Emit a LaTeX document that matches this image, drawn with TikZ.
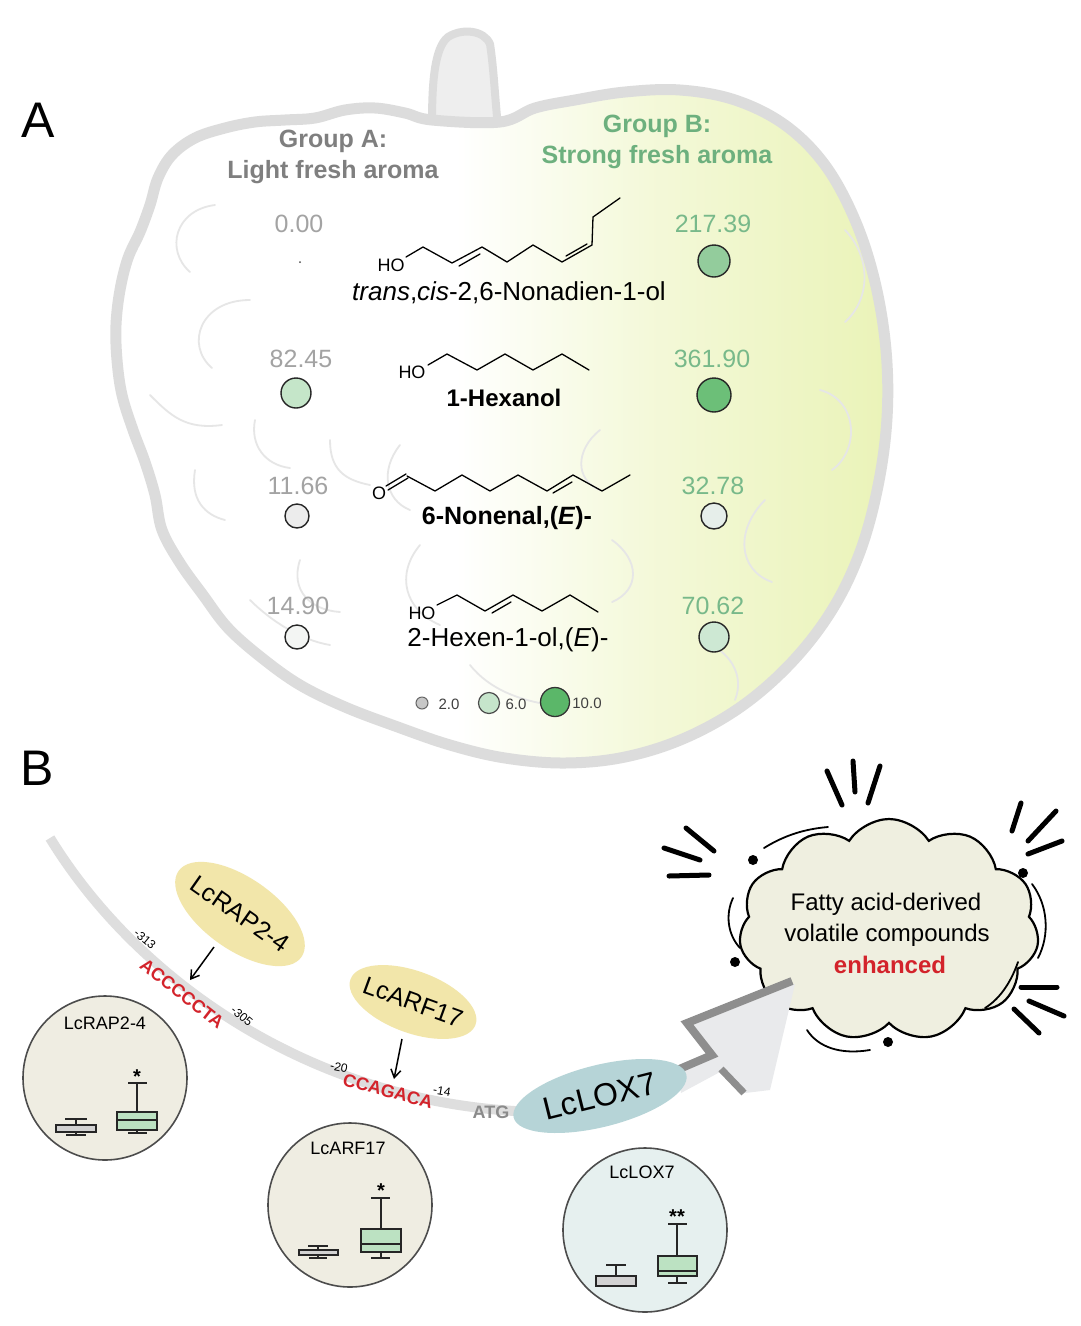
\documentclass[tikz,border=0pt]{standalone}
\usepackage{fontspec}
\setmainfont{Liberation Sans}
\usetikzlibrary{shapes.symbols,shapes.geometric,arrows.meta,calc}
\definecolor{fruitline}{HTML}{DCDCDC}
\definecolor{fruitbump}{HTML}{E6E6E6}
\definecolor{fruitG}{HTML}{EAF3B8}
\definecolor{grpA}{HTML}{7F7F7F}
\definecolor{grpB}{HTML}{6DB07E}
\definecolor{valA}{HTML}{A3A3A3}
\definecolor{valB}{HTML}{78B98A}
\definecolor{dnaG}{HTML}{DEDEDE}
\definecolor{seqRed}{HTML}{D3232B}
\definecolor{tfYel}{HTML}{F2E6AA}
\definecolor{loxBlue}{HTML}{B6D4D7}
\definecolor{circBeige}{HTML}{EFEDE2}
\definecolor{circBlue}{HTML}{E6F0EF}
\definecolor{boxGreen}{HTML}{BCE2C2}
\definecolor{boxGray}{HTML}{D2D2D2}
\definecolor{cloudFill}{HTML}{EFEFE0}
\definecolor{arrowDark}{HTML}{8E8E8E}
\definecolor{arrowLight}{HTML}{E9EAEC}
\definecolor{atgGray}{HTML}{8B8B8B}
\definecolor{stemFill}{HTML}{EEEEEE}
\pgfdeclarehorizontalshading{fruitshade}{100bp}{color(0bp)=(white); color(25bp)=(white); color(47bp)=(white); color(60bp)=(fruitG!55); color(75bp)=(fruitG); color(100bp)=(fruitG)}
\newcommand{\fsz}[1]{\fontsize{#1}{#1}\selectfont}
\begin{document}
\begin{tikzpicture}[x=1pt,y=-1pt,
  every node/.style={inner sep=0pt, outer sep=0pt},
  panel/.style={font=\fsz{50}},
  hdrA/.style={text=grpA, font=\fsz{25}\bfseries},
  hdrB/.style={text=grpB, font=\fsz{25}\bfseries},
  valLeft/.style={text=valA, font=\fsz{25}},
  valRight/.style={text=valB, font=\fsz{25}},
  bub/.style={circle, draw=black!85, line width=1.4, minimum size=#1},
  mol/.style={line width=1.3, line join=round, line cap=round},
  atom/.style={font=\fsz{18}},
  molname/.style={font=\fsz{26}},
  legtxt/.style={font=\fsz{15}, text=black!75},
  bumpline/.style={draw=fruitbump, line width=1.8, line cap=round},
  tfell/.style={ellipse, fill=tfYel, inner sep=0pt, font=\fsz{25}},
  tfarrow/.style={line width=1.5, -{Straight Barb[length=8pt,width=10pt]}},
  seqtxt/.style={text=seqRed, font=\fsz{18}\bfseries},
  postxt/.style={font=\fsz{12}},
  exprcirc/.style={draw=black!70, line width=1.6},
  exprtitle/.style={font=\fsz{18}},
  bp/.style={draw=black!85, line width=1.4},
  star/.style={font=\fsz{20}\bfseries},
  burst/.style={line width=5, line cap=round},
  thinarc/.style={line width=1.8, line cap=round},
  cloudtxt/.style={font=\fsz{24}}
]
\useasboundingbox (0,0) rectangle (1080,1326);
\fill[white] (0,0) rectangle (1080,1326);

% ---------------- Panel A: fruit ----------------
\filldraw[fill=stemFill, draw=fruitline, line width=8, line join=round]
  (432,124) .. controls (432,85) and (434,48) .. (448,37)
  .. controls (462,28) and (484,30) .. (490,44)
  .. controls (494,70) and (495,100) .. (498,126);
\shade[shading=fruitshade] plot[smooth cycle, tension=0.6] coordinates {
 (432,120) (405,113) (375,108) (345,110) (315,118) (285,120) (255,122) (225,128)
 (195,138) (172,155) (158,178) (150,205) (140,232) (128,258) (120,290) (116,325)
 (117,360) (122,395) (133,430) (145,462) (155,495) (162,530) (180,563) (203,595)
 (228,628) (262,658) (300,685) (345,707) (395,726) (450,745) (505,758) (565,763)
 (625,757) (685,738) (742,706) (792,662) (832,610) (860,552) (878,486) (887,418)
 (886,350) (875,282) (855,220) (825,165) (785,125) (735,100) (680,90) (625,92)
 (575,100) (535,108) (500,122)};
% faint inner bumps
\draw[bumpline] (215,205) .. controls (175,210) and (165,250) .. (190,272);
\draw[bumpline] (250,300) .. controls (200,300) and (185,345) .. (212,368);
\draw[bumpline] (150,395) .. controls (170,415) and (185,430) .. (222,425);
\draw[bumpline] (195,470) .. controls (190,500) and (205,515) .. (225,520);
\draw[bumpline] (255,420) .. controls (250,445) and (265,465) .. (290,468);
\draw[bumpline] (330,440) .. controls (330,470) and (345,480) .. (370,485);
\draw[bumpline] (400,445) .. controls (380,470) and (385,500) .. (410,510);
\draw[bumpline] (420,545) .. controls (395,575) and (405,610) .. (440,625);
\draw[bumpline] (300,560) .. controls (290,590) and (310,610) .. (340,612);
\draw[bumpline] (250,600) .. controls (270,620) and (300,640) .. (330,645);
\draw[bumpline] (470,665) .. controls (490,690) and (520,700) .. (550,705);
\draw[bumpline] (845,230) .. controls (872,258) and (870,300) .. (845,322);
\draw[bumpline] (820,390) .. controls (858,400) and (860,450) .. (832,470);
\draw[bumpline] (765,500) .. controls (735,530) and (738,570) .. (772,582);
\draw[bumpline] (612,540) .. controls (640,560) and (640,590) .. (612,602);
\draw[bumpline] (700,640) .. controls (730,650) and (745,675) .. (735,700);
\draw[bumpline] (600,430) .. controls (575,450) and (575,480) .. (600,490);
\draw[fruitline, line width=11, line join=round] plot[smooth cycle, tension=0.6] coordinates {
 (432,120) (405,113) (375,108) (345,110) (315,118) (285,120) (255,122) (225,128)
 (195,138) (172,155) (158,178) (150,205) (140,232) (128,258) (120,290) (116,325)
 (117,360) (122,395) (133,430) (145,462) (155,495) (162,530) (180,563) (203,595)
 (228,628) (262,658) (300,685) (345,707) (395,726) (450,745) (505,758) (565,763)
 (625,757) (685,738) (742,706) (792,662) (832,610) (860,552) (878,486) (887,418)
 (886,350) (875,282) (855,220) (825,165) (785,125) (735,100) (680,90) (625,92)
 (575,100) (535,108) (500,122)};

\node[panel] (labA) at (38,120) {A};
\node[hdrA] (ga1) at (333,141) {Group A:};
\node[hdrA] (ga2) at (333,172) {Light fresh aroma};
\node[hdrB] (gb1) at (657,126) {Group B:};
\node[hdrB] (gb2) at (657,157) {Strong fresh aroma};

% values
\node[valLeft] (va1) at (299,224) {0.00};
\node[valLeft] (va2) at (301,359) {82.45};
\node[valLeft] (va3) at (298,486) {11.66};
\node[valLeft] (va4) at (298,606) {14.90};
\node[valRight] (vb1) at (713,224) {217.39};
\node[valRight] (vb2) at (712,359) {361.90};
\node[valRight] (vb3) at (713,486) {32.78};
\node[valRight] (vb4) at (713,606) {70.62};

% bubbles
\node[circle, fill=black!70, minimum size=2pt] (ca1) at (300,262) {};
\node[bub=30pt, fill={rgb,255:red,197;green,230;blue,201}] (ca2) at (296,393) {};
\node[bub=24pt, fill={rgb,255:red,236;green,236;blue,236}] (ca3) at (297,516) {};
\node[bub=24pt, fill={rgb,255:red,243;green,245;blue,243}] (ca4) at (297,637) {};
\node[bub=32pt, fill={rgb,255:red,147;green,204;blue,156}] (cb1) at (714,261) {};
\node[bub=34pt, fill={rgb,255:red,108;green,191;blue,120}] (cb2) at (714,395) {};
\node[bub=26pt, fill={rgb,255:red,230;green,238;blue,234}] (cb3) at (714,516) {};
\node[bub=30pt, fill={rgb,255:red,205;green,232;blue,211}] (cb4) at (714,637) {};

% molecule 1: trans,cis-2,6-nonadien-1-ol
\node[atom] (ho1) at (391,265) {HO};
\draw[mol] (406,257) -- (423,247) -- (452,263) -- (482,247) -- (507,262) -- (533,245)
  -- (562,262) -- (592,245) -- (593,217) -- (620,198);
\draw[mol] (459,266) -- (480,254);
\draw[mol] (566,256) -- (587,244);
\node[molname] (n1) at (509,293) {\textit{trans},\textit{cis}-2,6-Nonadien-1-ol};

% molecule 2: 1-hexanol
\node[atom] (ho2) at (412,372) {HO};
\draw[mol] (428,365) -- (447,354) -- (477,370) -- (505,354) -- (533,370) -- (562,354) -- (589,370);
\node[font=\fsz{24}\bfseries] (n2) at (504,398) {1-Hexanol};

% molecule 3: 6-nonenal
\node[atom] (o3) at (379,493) {O};
\draw[mol] (386,486) -- (406,474);
\draw[mol] (388,490) -- (408,478);
\draw[mol] (407,476) -- (435,491) -- (462,475) -- (490,491) -- (518,475) -- (547,491)
  -- (573,475) -- (602,491) -- (630,475);
\draw[mol] (553,493) -- (572,482);
\node[font=\fsz{25}\bfseries] (n3) at (507,518) {6-Nonenal,(\textit{E})-};

% molecule 4: 2-hexen-1-ol
\node[atom] (ho4) at (422,613) {HO};
\draw[mol] (437,605) -- (457,595) -- (485,611) -- (513,595) -- (542,611) -- (570,595) -- (598,612);
\draw[mol] (492,613) -- (511,602);
\node[molname] (n4) at (508,640) {2-Hexen-1-ol,(\textit{E})-};

% legend
\node[circle, draw=black!60, line width=1, fill=black!22, minimum size=12pt] (lg1) at (422,703) {};
\node[legtxt] (lt1) at (449,704) {2.0};
\node[circle, draw=black!70, line width=1.2, fill={rgb,255:red,198;green,229;blue,203}, minimum size=21pt] (lg2) at (489,703) {};
\node[legtxt] (lt2) at (516,704) {6.0};
\node[circle, draw=black!80, line width=1.3, fill={rgb,255:red,91;green,183;blue,105}, minimum size=29pt] (lg3) at (555,702) {};
\node[legtxt] (lt3) at (587,703) {10.0};

% ---------------- Panel B ----------------
\node[panel] (labB) at (37,768) {B};

% cloud
\node[cloud, cloud puffs=11, cloud puff arc=115, aspect=1.3, minimum width=300pt, minimum height=222pt,
      draw=black, fill=cloudFill, line width=2.2] (cloud) at (889,930) {};
\node[cloudtxt] (ct1) at (886,904) {Fatty acid-derived};
\node[cloudtxt] (ct2) at (887,935) {volatile compounds};
\node[cloudtxt, text=seqRed, font=\fsz{24}\bfseries] (ct3) at (890,965) {enhanced};

% burst strokes
\draw[burst] (827,771) -- (842,805);
\draw[burst] (853,761) -- (855,792);
\draw[burst] (880,766) -- (868,803);
\draw[burst] (686,828) -- (714,851);
\draw[burst] (664,848) -- (700,860);
\draw[burst] (669,876) -- (709,875);
\draw[burst] (1021,803) -- (1012,831);
\draw[burst] (1056,811) -- (1028,841);
\draw[burst] (1062,841) -- (1028,854);
\draw[burst] (1021,987) -- (1057,987);
\draw[burst] (1029,1001) -- (1064,1016);
\draw[burst] (1014,1009) -- (1039,1033);
% dots
\fill (753,860) circle (5);
\fill (1023,873) circle (5);
\fill (735,962) circle (5);
\fill (888,1042) circle (5);
% thin arcs
\draw[thinarc] (764,848) .. controls (785,835) and (805,829) .. (828,827);
\draw[thinarc] (733,898) .. controls (725,915) and (728,935) .. (740,948);
\draw[thinarc] (1032,884) .. controls (1048,905) and (1050,935) .. (1038,958);
\draw[thinarc] (1018,962) .. controls (1010,985) and (998,1000) .. (985,1008);
\draw[thinarc] (807,1030) .. controls (818,1047) and (840,1055) .. (870,1050);

% big arrow
\fill[arrowLight] (681,1093) -- (678,1072) -- (713,1057) -- (688,1025) -- (795,984)
  -- (770,1090) -- (745,1093) -- (720,1072) -- cycle;
\draw[arrowDark, line width=8, line join=miter] (677,1070) -- (712,1055) -- (687,1023) -- (792,981);
\draw[arrowDark, line width=7] (721,1069) -- (744,1093);

% DNA strand
\coordinate (dnaS) at (50,838);
\coordinate (dnaE) at (540,1112);
\draw[dnaG, line width=10] (dnaS) .. controls (140,985) and (320,1108) .. (dnaE);

% sequences
\node[seqtxt, rotate=-38] (seq1) at (182,994) {ACCCCCTA};
\node[seqtxt, rotate=-15] (seq2) at (388,1091) {CCAGACA};
\node[postxt, rotate=-40] (p313) at (145,939) {-313};
\node[postxt, rotate=-40] (p305) at (242,1016) {-305};
\node[postxt, rotate=-12] (p20) at (339,1067) {-20};
\node[postxt, rotate=-10] (p14) at (442,1091) {-14};
\node[text=atgGray, font=\fsz{18}\bfseries] (atg) at (491,1112) {ATG};

% transcription factors
\node[tfell, minimum width=150pt, minimum height=72pt, rotate=-35] (rap) at (240,914) {\makebox[0pt]{LcRAP2-4}};
\node[tfell, minimum width=133pt, minimum height=62pt, rotate=-20] (arf) at (413,1002) {\makebox[0pt]{LcARF17}};
\coordinate (a1s) at (214,947);
\coordinate (a1e) at (190,980);
\coordinate (a2s) at (402,1039);
\coordinate (a2e) at (394,1079);
\draw[tfarrow] (a1s) -- (a1e);
\draw[tfarrow] (a2s) -- (a2e);

% LcLOX7
\node[ellipse, fill=loxBlue, minimum width=178pt, minimum height=62pt, rotate=14, font=\fsz{32}] (lox) at (600,1096) {\makebox[0pt]{LcLOX7}};

% expression circles
\filldraw[exprcirc, fill=circBeige] (105,1078) circle (82);
\node[exprtitle] (e1t) at (105,1023) {LcRAP2-4};
\draw[bp] (76,1125) -- (76,1119) (65,1119) -- (87,1119) (76,1132) -- (76,1135) (66,1135) -- (86,1135);
\draw[bp, fill=boxGray] (56,1125) rectangle (96,1132);
\draw[bp] (137,1112) -- (137,1083) (128,1083) -- (147,1083) (137,1130) -- (137,1133) (128,1133) -- (147,1133);
\draw[bp, fill=boxGreen] (117,1112) rectangle (157,1130);
\draw[bp] (117,1120) -- (157,1120);
\node[star] (s1) at (137,1077) {*};

\filldraw[exprcirc, fill=circBeige] (350,1205) circle (82);
\node[exprtitle] (e2t) at (348,1148) {LcARF17};
\draw[bp] (318,1250) -- (318,1246) (308,1246) -- (328,1246) (318,1255) -- (318,1258) (309,1258) -- (327,1258);
\draw[bp, fill=boxGray] (299,1250) rectangle (338,1255);
\draw[bp] (381,1229) -- (381,1198) (371,1198) -- (390,1198) (381,1252) -- (381,1258) (371,1258) -- (390,1258);
\draw[bp, fill=boxGreen] (361,1229) rectangle (401,1252);
\draw[bp] (361,1244) -- (401,1244);
\node[star] (s2) at (381,1191) {*};

\filldraw[exprcirc, fill=circBlue] (645,1230) circle (82);
\node[exprtitle] (e3t) at (642,1172) {LcLOX7};
\draw[bp] (616,1276) -- (616,1265) (606,1265) -- (626,1265);
\draw[bp, fill=boxGray] (596,1276) rectangle (636,1286);
\draw[line width=2.6, black!85] (596,1286) -- (636,1286);
\draw[bp] (677,1256) -- (677,1224) (668,1224) -- (687,1224) (677,1276) -- (677,1283) (668,1283) -- (687,1283);
\draw[bp, fill=boxGreen] (658,1256) rectangle (697,1276);
\draw[bp] (658,1271) -- (697,1271);
\node[star] (s3) at (677,1217) {**};
\end{tikzpicture}
\end{document}
